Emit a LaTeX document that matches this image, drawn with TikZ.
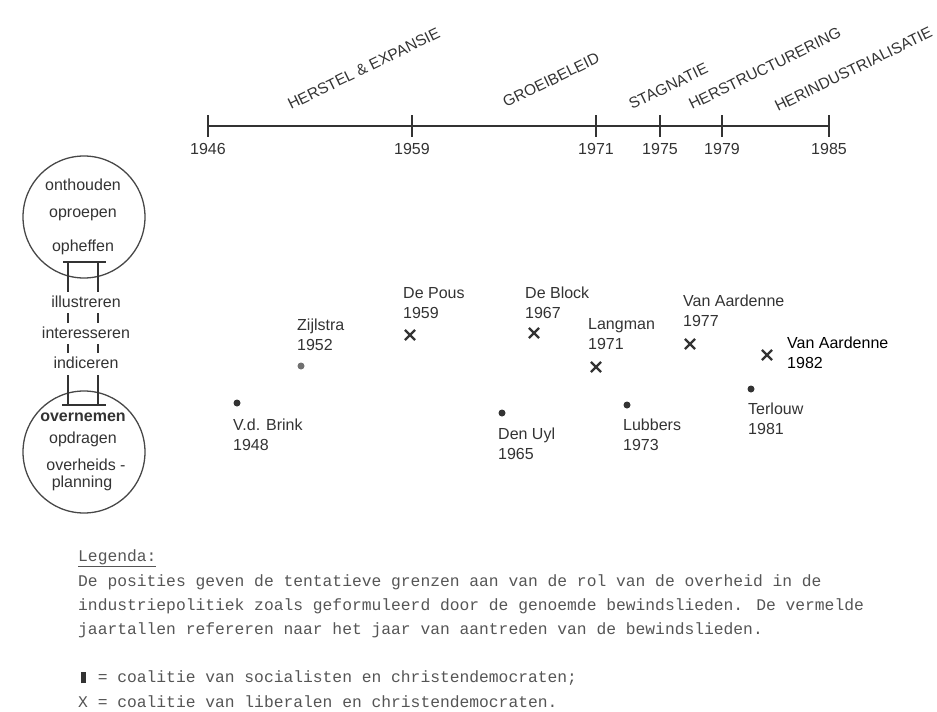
\documentclass[tikz,border=0pt]{standalone}
\usepackage{fontspec}
\setmainfont{Liberation Sans}
\newfontfamily\legfont{Liberation Mono}
\usetikzlibrary{shapes.misc}
\usepackage{xcolor}
\definecolor{ink}{HTML}{333333}
\definecolor{legink}{HTML}{555555}
\tikzset{
  axis/.style={draw=ink, line width=1.8pt},
  rung/.style={draw=ink, line width=1.6pt},
  ring/.style={draw=ink!90, line width=1.3pt},
  phase/.style={font=\fontsize{15.5}{18}\selectfont, text=ink, anchor=base west, rotate=26, inner sep=0pt},
  year/.style={font=\fontsize{16}{19}\selectfont, text=ink, inner sep=0pt},
  verb/.style={font=\fontsize{16}{19}\selectfont, text=ink, inner sep=0pt},
  lab/.style={font=\fontsize{16}{19.5}\selectfont, text=ink, align=left, anchor=west, inner sep=0pt},
  dot/.style={circle, fill=ink, inner sep=0pt, minimum size=7pt},
  kruis/.style={cross out, draw=ink, line width=2.2pt, inner sep=0pt, minimum size=8pt},
  leg/.style={font=\legfont\fontsize{16.3}{24}\selectfont, text=legink, anchor=west, inner sep=0pt},
}

\begin{document}
\begin{tikzpicture}[x=1pt,y=-1pt]
			\useasboundingbox (0,0) rectangle (937,712);
			% tijdas
			\foreach \x/\jaar in {208/1946,412/1959,596/1971,660/1975,722/1979,829/1985}{
				\coordinate (t\jaar) at (\x,126);
				\draw[axis] (\x,115) -- (\x,137);
				\node[year] (j\jaar) at (\x,149) {\jaar};
			}
			\draw[axis] (t1946) -- (t1985);
			\node[phase] (herstel) at (291,110) {HERSTEL \& EXPANSIE};
			\node[phase] (groei) at (506,108) {GROEIBELEID};
			\node[phase] (stag) at (632,110) {STAGNATIE};
			\node[phase] (herstr) at (692,110) {HERSTRUCTURERING};
			\node[phase] (herind) at (778,112) {HERINDUSTRIALISATIE};
			% schaal links
			\draw[ring] (84,217) circle [radius=61pt];
			\draw[ring] (84,452) circle [radius=61pt];
			\node[verb] (onth) at (83,185) {onthouden};
			\node[verb] (oproe) at (83,215) {oproepen};
			\node[verb] (ophef) at (83,247) {opheffen};
			\node[verb] (illu) at (86,302) {illustreren};
			\node[verb] (inter) at (86,333) {interesseren};
			\node[verb] (indi) at (86,363) {indiceren};
			\node[verb] (overn) at (83,417) {\bfseries overnemen};
			\node[verb] (opdr) at (83,439) {opdragen};
			\node[verb] (overh) at (86,465) {overheids -};
			\node[verb] (plan) at (82,483) {planning};
			\draw[rung] (63,262) -- (106,262);
			\draw[rung] (68,262) -- (68,292);
			\draw[rung] (98,262) -- (98,292);
			\draw[rung] (68,313) -- (68,323);
			\draw[rung] (98,313) -- (98,323);
			\draw[rung] (68,344) -- (68,353);
			\draw[rung] (98,344) -- (98,353);
			\draw[rung] (68,375) -- (68,405);
			\draw[rung] (98,375) -- (98,405);
			\draw[rung] (62,405) -- (106,405);
			% bewindslieden
			\node[dot] (brink) at (237,403) {};
			\node[lab] (brinkl) at (233,435) {V.d. Brink\\1948};
			\node[dot, fill=ink!70] (zijl) at (301,366) {};
			\node[lab] (zijll) at (297,335) {Zijlstra\\1952};
			\node[kruis] (pous) at (410,335) {};
			\node[lab] (pousl) at (403,303) {De Pous\\1959};
			\node[kruis] (block) at (534,333) {};
			\node[lab] (blockl) at (525,303) {De Block\\1967};
			\node[dot] (uyl) at (502,413) {};
			\node[lab] (uyll) at (498,444) {Den Uyl\\1965};
			\node[kruis] (lang) at (596,367) {};
			\node[lab] (langl) at (588,334) {Langman\\1971};
			\node[dot] (lubb) at (627,405) {};
			\node[lab] (lubbl) at (623,435) {Lubbers\\1973};
			\node[kruis] (aard) at (690,344) {};
			\node[lab] (aardl) at (683,311) {Van Aardenne\\1977};
			\node[kruis] (aardb) at (767,355) {};
			\node[lab, text=black] (aardbl) at (787,353) {Van Aardenne\\1982};
			\node[dot] (terl) at (751,389) {};
			\node[lab] (terll) at (748,419) {Terlouw\\1981};
			% legenda
			\node[leg] (legenda) at (78,558) {\underline{Legenda:}};
			\node[leg] (regel1) at (78,582) {De posities geven de tentatieve grenzen aan van de rol van de overheid in de};
			\node[leg] (regel2) at (78,606) {industriepolitiek zoals geformuleerd door de genoemde bewindslieden. De vermelde};
			\node[leg] (regel3) at (78,630) {jaartallen refereren naar het jaar van aantreden van de bewindslieden.};
			\node[leg] (regel4) at (78,678) {\makebox[0.6em]{\color{legink!60!black}\rule[-1pt]{5pt}{11pt}} = coalitie van socialisten en christendemocraten;};
			\node[leg] (regel5) at (78,702) {X = coalitie van liberalen en christendemocraten.};
\end{tikzpicture}
\end{document}
